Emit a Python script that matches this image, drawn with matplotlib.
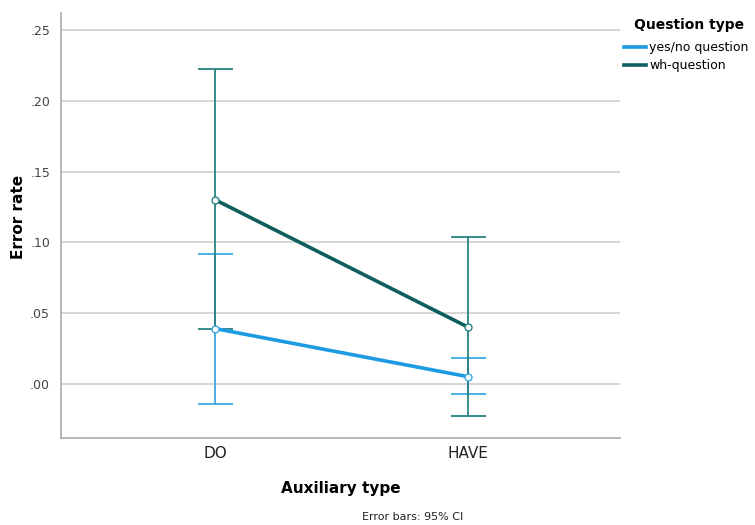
import matplotlib
matplotlib.use("Agg")
import matplotlib.pyplot as plt
from matplotlib.lines import Line2D

# Data
aux_types = ["DO", "HAVE"]
series_names = ["yes/no question", "wh-question"]
yesno_mean = [0.039, 0.005]
yesno_lo = [-0.014, -0.0075]
yesno_hi = [0.092, 0.0185]
wh_mean = [0.130, 0.040]
wh_lo = [0.0385, -0.023]
wh_hi = [0.2225, 0.1035]
y_ticks = [0.0, 0.05, 0.10, 0.15, 0.20, 0.25]

line_colors = ["#1C9BE3", "#0E5E5E"]
bar_colors = ["#3BA8DE", "#2A8282"]

fig = plt.figure(figsize=(7.55, 5.25), dpi=100)
ax = fig.add_axes([0.081, 0.166, 0.74, 0.809])

x = list(range(len(aux_types)))
series = [(yesno_mean, yesno_lo, yesno_hi), (wh_mean, wh_lo, wh_hi)]

for (mean, lo, hi), lc, bc in zip(series, line_colors, bar_colors):
    err = [[m - l for m, l in zip(mean, lo)], [h - m for m, h in zip(mean, hi)]]
    ax.errorbar(x, mean, yerr=err, fmt="none", ecolor=bc, elinewidth=1.3,
                capsize=12.6, capthick=1.3, zorder=3)
    ax.plot(x, mean, color=lc, linewidth=2.6, zorder=4)
    ax.plot(x, mean, linestyle="none", marker="o", markersize=5,
            markerfacecolor="white", markeredgecolor=bc, markeredgewidth=1.0, zorder=5)

ax.set_xlim(-0.61, 1.6)
ax.set_ylim(-0.0382, 0.262)
ax.set_xticks(x)
ax.set_xticklabels(aux_types, fontsize=11, color="#222222")
ax.set_yticks(y_ticks)
ax.set_yticklabels([("%.2f" % t)[1:] for t in y_ticks], fontsize=9, color="#444444")
ax.tick_params(axis="both", length=0)
ax.tick_params(axis="x", pad=6)
ax.tick_params(axis="y", pad=8)
ax.yaxis.grid(True, color="#D0D0D0", linewidth=1.2)
ax.set_axisbelow(True)
for s in ["top", "right"]:
    ax.spines[s].set_visible(False)
for s in ["left", "bottom"]:
    ax.spines[s].set_color("#AAAAAA")
    ax.spines[s].set_linewidth(1.2)

ax.set_ylabel("Error rate", fontsize=11, fontweight="bold")
ax.yaxis.set_label_coords(-0.063, 0.52)
ax.set_xlabel("Auxiliary type", fontsize=11, fontweight="bold")
ax.xaxis.set_label_coords(0.5, -0.101)

fig.text(0.546, 0.006, "Error bars: 95% CI", fontsize=8, ha="center", va="bottom",
         color="#222222")

# legend title placed separately so the gap above the entries matches
fig.text(0.913, 0.952, "Question type", fontsize=10, fontweight="bold",
         ha="center", va="center")
handles = [Line2D([0], [0], color=c, linewidth=2.6) for c in line_colors]
fig.legend(handles, series_names, loc="upper left", bbox_to_anchor=(0.826, 0.921),
           frameon=False, fontsize=9, handlelength=1.75, handletextpad=0.3,
           labelspacing=0.4, borderaxespad=0, borderpad=0)

fig.savefig("out.png", dpi=100)
